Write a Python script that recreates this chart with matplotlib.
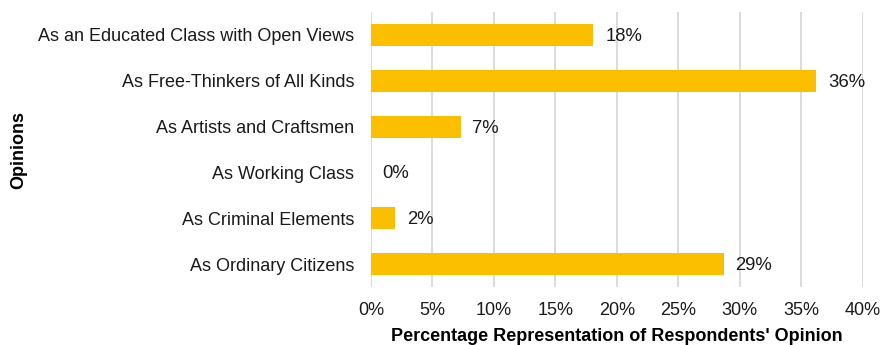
import matplotlib.pyplot as plt
from matplotlib.ticker import FuncFormatter

plt.rcParams["font.family"] = ["Liberation Sans", "DejaVu Sans"]

opinions = [
    "As an Educated Class with Open Views",
    "As Free-Thinkers of All Kinds",
    "As Artists and Craftsmen",
    "As Working Class",
    "As Criminal Elements",
    "As Ordinary Citizens",
]
shares = [18.1, 36.2, 7.3, 0.0, 2.0, 28.7]
x_ticks = [0, 5, 10, 15, 20, 25, 30, 35, 40]

fig = plt.figure(figsize=(8.85, 3.45), dpi=100)
ax = fig.add_axes([0.419, 0.168, 0.556, 0.797])

pos = list(range(len(opinions)))
ax.barh(pos, shares, height=0.48, color="#FBBF00", zorder=3)
for p, v in zip(pos, shares):
    ax.text(v + 0.95, p + 0.03, f"{v:.0f}%", va="center", ha="left",
            fontsize=13.3, color="#1a1a1a")

ax.set_ylim(len(opinions) - 0.5, -0.5)
ax.set_yticks(pos)
ax.set_yticklabels(opinions, fontsize=13, color="#1a1a1a")
ax.set_xlim(0, 40)
ax.set_xticks(x_ticks)
ax.xaxis.set_major_formatter(FuncFormatter(lambda v, _: f"{v:.0f}%"))
ax.tick_params(axis="x", labelsize=13, colors="#1a1a1a", length=0, pad=11)
ax.tick_params(axis="y", length=0, pad=12)
ax.grid(axis="x", color="#D9D9D9", linewidth=1.3, zorder=0)
for s in ax.spines.values():
    s.set_visible(False)

ax.set_xlabel("Percentage Representation of Respondents' Opinion",
              fontsize=13, fontweight="bold", labelpad=6)
fig.text(0.021, 0.565, "Opinions", rotation=90, fontsize=13,
         fontweight="bold", va="center", ha="center")

fig.savefig("out.png", dpi=100)
